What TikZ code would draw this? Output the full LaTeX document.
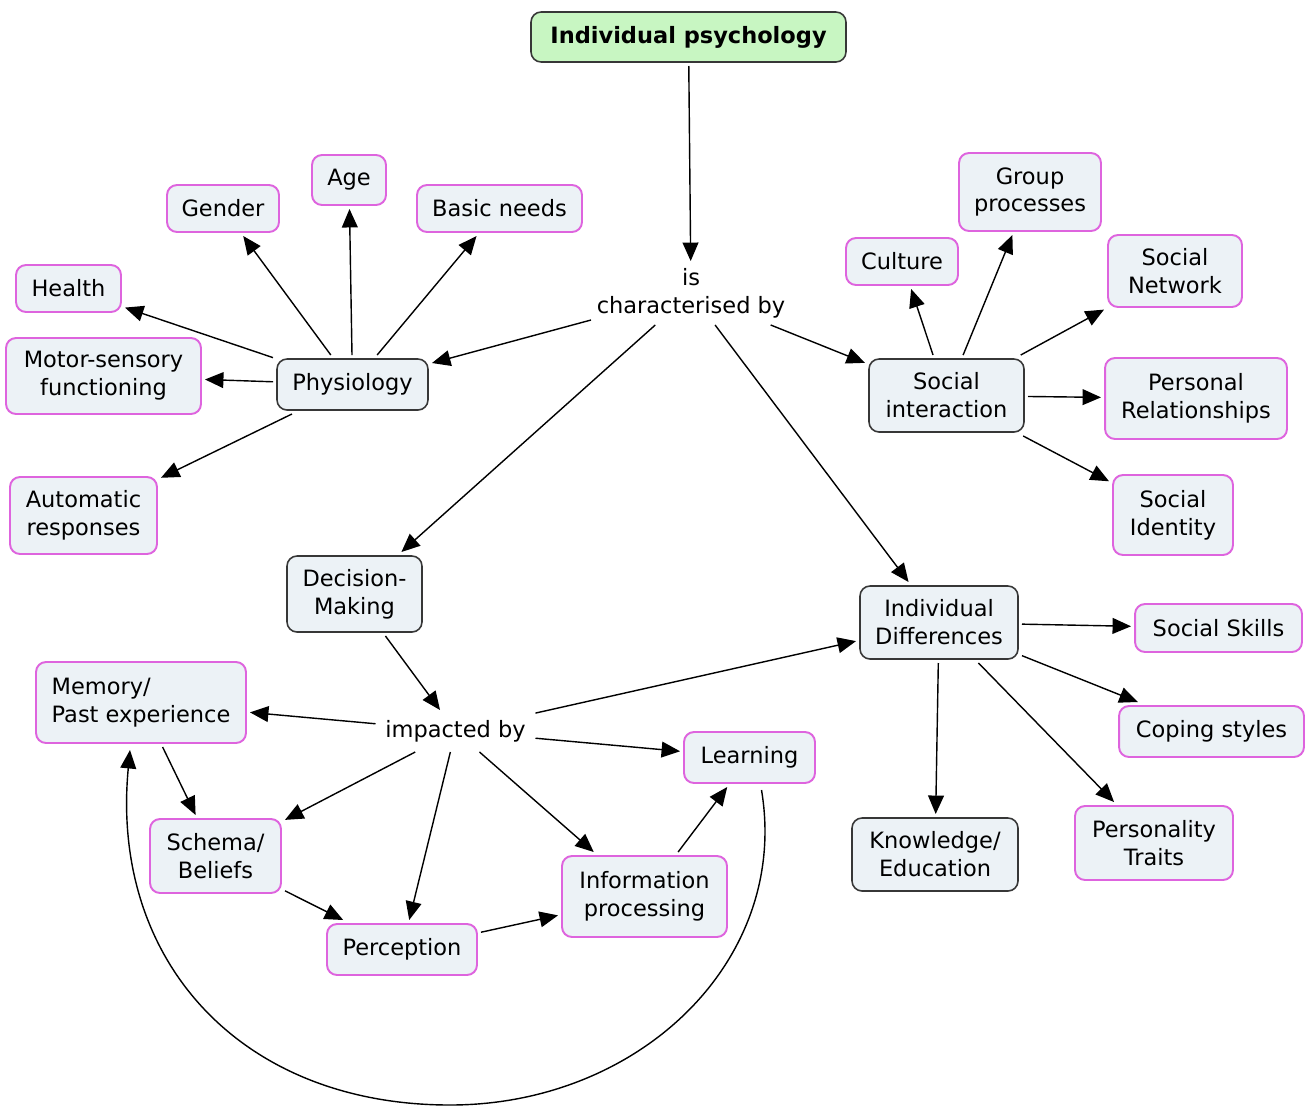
\documentclass[tikz,border=0pt]{standalone}
\usepackage{fontspec}
\setmainfont{DejaVu Sans}
\usetikzlibrary{arrows.meta}
\definecolor{pinkc}{RGB}{222,100,222}
\definecolor{fillc}{RGB}{236,242,246}
\definecolor{greenc}{RGB}{200,246,194}
\definecolor{darkc}{RGB}{55,55,55}
\tikzset{
  concept/.style={rounded corners=0.2cm, draw=pinkc, line width=1.1pt, fill=fillc, align=center, inner sep=0pt, outer sep=0.08cm, font=\fontsize{12.8}{15.9}\selectfont},
  dconcept/.style={concept, draw=darkc, line width=0.9pt},
  rootc/.style={concept, draw=darkc, line width=0.9pt, fill=greenc, font=\fontsize{12.8}{15.9}\selectfont\bfseries},
  phrase/.style={align=center, inner sep=0pt, outer sep=0pt, font=\fontsize{12.8}{15.9}\selectfont},
  arr/.style={-{Triangle[length=10.5pt,width=9pt]}, line width=0.8pt, black},
}
\begin{document}
\begin{tikzpicture}[x=0.02cm,y=-0.02cm]
\useasboundingbox (0,0) rectangle (1314,1116);
% nodes
\node[rootc, minimum width=6.3cm, minimum height=1.0cm] (ip) at (688.5,37) {Individual psychology};
\node[phrase, minimum width=4.0cm, minimum height=1.28cm] (isc) at (691,293) {is\\characterised by};
\node[dconcept, minimum width=3.02cm, minimum height=1.02cm] (phys) at (352.5,384.5) {Physiology};
\node[concept, minimum width=2.24cm, minimum height=0.94cm] (gender) at (223,208.5) {Gender};
\node[concept, minimum width=1.48cm, minimum height=1.0cm] (age) at (349,180) {Age};
\node[concept, minimum width=3.3cm, minimum height=0.94cm] (basic) at (499.5,208.5) {Basic needs};
\node[concept, minimum width=2.1cm, minimum height=0.94cm] (health) at (68.5,288.5) {Health};
\node[concept, minimum width=3.9cm, minimum height=1.52cm] (motor) at (103.5,376) {Motor-sensory\\functioning};
\node[concept, minimum width=2.94cm, minimum height=1.54cm] (auto) at (83.5,515.5) {Automatic\\responses};
\node[dconcept, minimum width=3.1cm, minimum height=1.46cm] (social) at (946.5,395.5) {Social\\interaction};
\node[concept, minimum width=2.24cm, minimum height=0.94cm] (culture) at (902,261.5) {Culture};
\node[concept, minimum width=2.84cm, minimum height=1.56cm] (group) at (1030,192) {Group\\processes};
\node[concept, minimum width=2.68cm, minimum height=1.44cm] (network) at (1175,271) {Social\\Network};
\node[concept, minimum width=3.64cm, minimum height=1.62cm] (personal) at (1196,398.5) {Personal\\Relationships};
\node[concept, minimum width=2.4cm, minimum height=1.6cm] (identity) at (1173,515) {Social\\Identity};
\node[dconcept, minimum width=2.7cm, minimum height=1.52cm] (decision) at (354.5,594) {Decision-\\Making};
\node[dconcept, minimum width=3.16cm, minimum height=1.46cm] (indiv) at (939,622.5) {Individual\\Differences};
\node[concept, minimum width=3.34cm, minimum height=0.96cm] (skills) at (1218.5,628) {Social Skills};
\node[concept, minimum width=3.7cm, minimum height=1.02cm] (coping) at (1211.5,731.5) {Coping styles};
\node[dconcept, minimum width=3.32cm, minimum height=1.46cm] (knowledge) at (935,854.5) {Knowledge/\\Education};
\node[concept, minimum width=3.16cm, minimum height=1.48cm] (personality) at (1154,843) {Personality\\Traits};
\node[phrase, minimum width=3.2cm, minimum height=0.84cm] (impact) at (455.5,731) {impacted by};
\node[concept, align=left, minimum width=4.2cm, minimum height=1.62cm] (memory) at (141,702.5) {Memory/\\Past experience};
\node[concept, minimum width=2.62cm, minimum height=1.02cm] (learning) at (749.5,757.5) {Learning};
\node[concept, minimum width=2.62cm, minimum height=1.48cm] (schema) at (215.5,856) {Schema/\\Beliefs};
\node[concept, minimum width=3.0cm, minimum height=1.02cm] (perception) at (402,949.5) {Perception};
\node[concept, minimum width=3.3cm, minimum height=1.62cm] (info) at (644.5,896.5) {Information\\processing};
% connectors
\draw[arr] (ip) -- (isc);
\draw[arr] (isc) -- (phys);
\draw[arr] (isc) -- (decision);
\draw[arr] (isc) -- (indiv);
\draw[arr] (isc) -- (social);
\draw[arr] (phys) -- (gender);
\draw[arr] (phys) -- (age);
\draw[arr] (phys) -- (basic);
\draw[arr] (phys) -- (health);
\draw[arr] (phys) -- (motor);
\draw[arr] (phys) -- (auto);
\draw[arr] (social) -- (culture);
\draw[arr] (social) -- (group);
\draw[arr] (social) -- (network);
\draw[arr] (social) -- (personal);
\draw[arr] (social) -- (identity);
\draw[arr] (indiv) -- (skills);
\draw[arr] (indiv) -- (coping);
\draw[arr] (indiv) -- (knowledge);
\draw[arr] (indiv) -- (personality);
\draw[arr] (decision) -- (impact);
\draw[arr] (impact) -- (memory);
\draw[arr] (impact) -- (indiv);
\draw[arr] (impact) -- (learning);
\draw[arr] (impact) -- (schema);
\draw[arr] (impact) -- (perception);
\draw[arr] (impact) -- (info);
\draw[arr] (memory) -- (schema);
\draw[arr] (schema) -- (perception);
\draw[arr] (perception) -- (info);
\draw[arr] (info) -- (learning);
\draw[arr] ([xshift=0.24cm,yshift=-0.06cm]learning.south) .. controls (790,960) and (640,1105) .. (450,1105) .. controls (240,1105) and (110,960) .. ([xshift=-0.22cm,yshift=-0.06cm]memory.south);
\end{tikzpicture}
\end{document}
